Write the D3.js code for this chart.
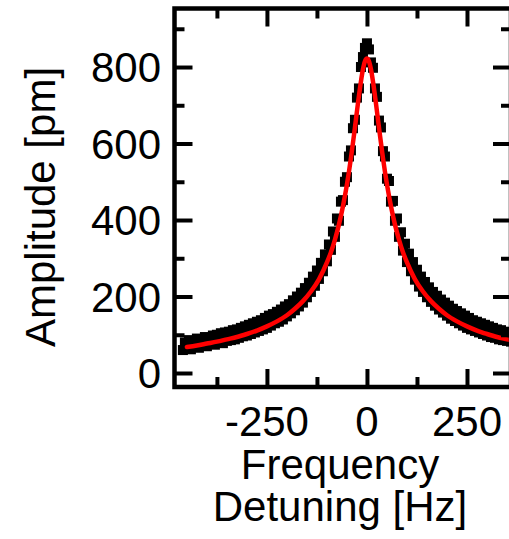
<!DOCTYPE html>
<html>
<head>
<meta charset="utf-8">
<script src="https://cdn.jsdelivr.net/npm/d3@7"></script>
<style>
  html, body { margin: 0; padding: 0; background: #fff; }
  svg { display: block; }
  text { font-family: "Liberation Sans", Arial, sans-serif; fill: #000; }
</style>
</head>
<body>
<svg id="chart" width="509" height="539"></svg>
<script>
// ---- data ----
const dataFreq = [
  -460,-455,-450,-445,-440,-435,-430,-425,-420,-415,-410,-405,-400,-395,-390,-385,-380,-375,-370,-365,
  -360,-355,-350,-345,-340,-335,-330,-325,-320,-315,-310,-305,-300,-295,-290,-285,-280,-275,-270,-265,
  -260,-255,-250,-245,-240,-235,-230,-225,-220,-215,-210,-205,-200,-195,-190,-185,-180,-175,-170,-165,
  -160,-155,-150,-145,-140,-135,-130,-125,-120,-115,-110,-105,-100,-95,-90,-85,-80,-75,-70,-65,
  -60,-55,-50,-45,-40,-35,-30,-25,-20,-15,-10,-5,0,
  5,10,15,20,25,30,35,40,45,50,55,60,65,70,75,80,85,90,95,100,
  105,110,115,120,125,130,135,140,145,150,155,160,165,170,175,180,185,190,195,200,
  205,210,215,220,225,230,235,240,245,250,255,260,265,270,275,280,285,290,295,300,
  305,310,315,320,325,330,335,340,345,350,355,360
];
const dataAmp = [
  60,80,66,86,62,82,70,90,66,88,74,94,70,92,76,98,74,100,80,104,
  78,106,84,108,86,112,88,114,92,118,96,122,98,126,102,130,106,134,110,138,
  114,144,118,150,124,154,130,160,134,166,140,174,148,180,156,190,164,200,174,210,
  184,222,198,236,212,252,228,268,246,288,266,310,292,336,322,370,356,404,398,448,
  452,500,512,566,582,640,662,720,744,800,826,850,862,
  846,812,798,744,722,660,642,580,566,508,502,448,450,398,404,356,368,320,338,290,
  312,266,290,244,270,226,252,212,238,198,224,186,212,176,202,166,192,158,184,150,
  176,142,168,136,162,130,156,124,150,118,144,114,138,110,134,106,130,102,126,98,
  122,94,118,92,114,88,112,86,108,84,106,82
];
const fitFreq = [-450,-425,-400,-375,-350,-325,-300,-275,-250,-225,-200,-180,-160,-140,-120,-100,-90,-80,-70,-60,-50,-40,-30,-20,-10,-5,0,5,10,20,30,40,50,60,70,80,90,100,120,140,160,180,200,225,250,275,300,325,350,375];
const fitAmp  = [68,72,77,82,88,94,102,111,122,135,151,168,188,213,245,289,316,349,388,436,493,562,642,725,794,815,822,815,794,725,642,562,493,436,388,349,316,289,245,213,188,168,151,135,122,111,102,94,88,82];

const xMajorTicks = [-250, 0, 250];
const xMinorTicks = [-375, -125, 125, 375];
const yMajorTicks = [0, 200, 400, 600, 800];
const yMinorTicks = [100, 300, 500, 700, 900];

const xLabel = "Frequency";
const xLabel2 = "Detuning [Hz]";
const yLabel = "Amplitude [pm]";

// ---- layout ----
const L = 174.5, R = 511, T = 8.5, B = 387;
const svg = d3.select("#chart");

const x = d3.scaleLinear().domain([-481, 360]).range([L, R]);
const y = d3.scaleLinear().domain([-36.6, 953]).range([B, T]);

svg.append("defs").append("clipPath").attr("id", "clip")
  .append("rect").attr("x", L).attr("y", T).attr("width", R - L).attr("height", B - T);
const plot = svg.append("g");

// data squares
const sq = 10;
plot.append("g").attr("clip-path", "url(#clip)")
  .selectAll("rect").data(dataFreq.map((f, i) => [f, dataAmp[i]]))
  .join("rect")
  .attr("x", d => x(d[0]) - sq / 2)
  .attr("y", d => y(d[1]) - sq / 2)
  .attr("width", sq).attr("height", sq)
  .attr("fill", "#000");

// fit line
const line = d3.line().x(d => x(d[0])).y(d => y(d[1])).curve(d3.curveMonotoneX);
plot.append("path")
  .attr("clip-path", "url(#clip)")
  .datum(fitFreq.map((f, i) => [f, fitAmp[i]]))
  .attr("d", line)
  .attr("fill", "none")
  .attr("stroke", "#ff0000")
  .attr("stroke-width", 4.5)
  .attr("stroke-linejoin", "round")
  .attr("stroke-linecap", "round");

// axes (ticks pointing inward on all four sides)
const tw = 4;
function styleAxis(g) {
  g.select(".domain").remove();
  g.selectAll(".tick line").attr("stroke", "#000").attr("stroke-width", tw);
}
svg.append("g").attr("transform", `translate(0,${B})`).call(d3.axisBottom(x).tickValues(xMajorTicks).tickSize(-18).tickFormat("")).call(styleAxis);
svg.append("g").attr("transform", `translate(0,${B})`).call(d3.axisBottom(x).tickValues(xMinorTicks).tickSize(-10).tickFormat("")).call(styleAxis);
svg.append("g").attr("transform", `translate(0,${T})`).call(d3.axisTop(x).tickValues(xMajorTicks).tickSize(-18).tickFormat("")).call(styleAxis);
svg.append("g").attr("transform", `translate(0,${T})`).call(d3.axisTop(x).tickValues(xMinorTicks).tickSize(-10).tickFormat("")).call(styleAxis);

svg.append("g").attr("transform", `translate(${L},0)`).call(d3.axisLeft(y).tickValues(yMajorTicks).tickSize(-18).tickFormat("")).call(styleAxis);
svg.append("g").attr("transform", `translate(${L},0)`).call(d3.axisLeft(y).tickValues(yMinorTicks).tickSize(-10).tickFormat("")).call(styleAxis);
svg.append("g").attr("transform", `translate(${R},0)`).call(d3.axisRight(y).tickValues(yMajorTicks).tickSize(-18).tickFormat("")).call(styleAxis);
svg.append("g").attr("transform", `translate(${R},0)`).call(d3.axisRight(y).tickValues(yMinorTicks).tickSize(-10).tickFormat("")).call(styleAxis);

// frame
svg.append("rect").attr("x", L).attr("y", T).attr("width", R - L).attr("height", B - T)
  .attr("fill", "none").attr("stroke", "#000").attr("stroke-width", 4.5);

// tick labels
const fs = 42;
svg.append("g").selectAll("text").data(xMajorTicks).join("text")
  .attr("x", d => x(d)).attr("y", 436)
  .attr("text-anchor", "middle").attr("font-size", fs)
  .text(d => String(d));
svg.append("g").selectAll("text").data(yMajorTicks).join("text")
  .attr("x", 161).attr("y", d => y(d) + 15)
  .attr("text-anchor", "end").attr("font-size", fs)
  .text(d => String(d));

// axis titles
svg.append("text").attr("x", 340).attr("y", 479).attr("text-anchor", "middle").attr("font-size", fs).text(xLabel);
svg.append("text").attr("x", 340).attr("y", 521).attr("text-anchor", "middle").attr("font-size", fs).text(xLabel2);
svg.append("text").attr("transform", "translate(55,207) rotate(-90)")
  .attr("text-anchor", "middle").attr("font-size", fs).text(yLabel);
</script>
</body>
</html>
